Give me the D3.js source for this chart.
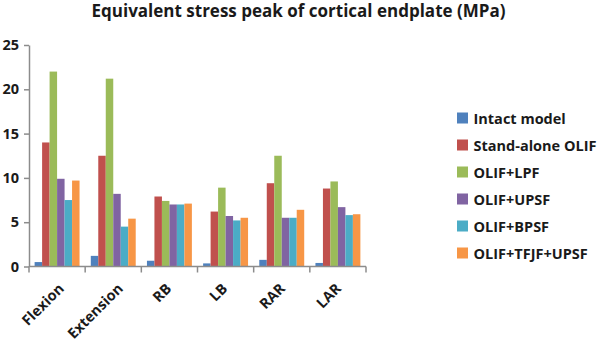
<!DOCTYPE html>
<html>
<head>
<meta charset="utf-8">
<script src="https://cdn.jsdelivr.net/npm/d3@7"></script>
<style>
  body { margin: 0; background: #fff; }
  svg text { font-family: "Open Sans", Lato, sans-serif; font-weight: bold; fill: #1a1a1a; }
</style>
</head>
<body>
<div id="container"></div>
<script>
// data
const categories = ["Flexion", "Extension", "RB", "LB", "RAR", "LAR"];
const seriesNames = ["Intact model", "Stand-alone OLIF", "OLIF+LPF", "OLIF+UPSF", "OLIF+BPSF", "OLIF+TFJF+UPSF"];
const intact = [0.5, 1.2, 0.65, 0.35, 0.75, 0.4];
const standAlone = [14.0, 12.5, 7.9, 6.2, 9.4, 8.8];
const lpf = [22.0, 21.2, 7.4, 8.9, 12.5, 9.6];
const upsf = [9.9, 8.2, 7.0, 5.7, 5.5, 6.7];
const bpsf = [7.5, 4.5, 7.0, 5.2, 5.5, 5.8];
const tfjf = [9.7, 5.4, 7.1, 5.5, 6.4, 5.9];
const yTicks = [0, 5, 10, 15, 20, 25];
const colors = ["#4f81bd", "#c0504d", "#9bbb59", "#8064a2", "#4bacc6", "#f79646"];

const allSeries = [intact, standAlone, lpf, upsf, bpsf, tfjf];

let w = 597;
let h = 346;

let svg = d3.select("#container")
    .append("svg")
    .attr("width", w)
    .attr("height", h);

// shrink/grow a text until it is about as wide as in the picture
function fitWidth(sel, target) {
    let len = sel.node().getComputedTextLength();
    let fs = parseFloat(sel.attr("font-size"));
    return fs * target / len;
}

// title
let title = svg.append("text")
    .attr("x", 298.5)
    .attr("y", 17)
    .attr("text-anchor", "middle")
    .attr("font-size", 15)
    .text("Equivalent stress peak of cortical endplate (MPa)");
title.attr("font-size", fitWidth(title, 414));

// scales
let xScale = d3.scaleBand()
    .domain(categories)
    .range([29, 366])
    .paddingInner(0)
    .paddingOuter(0);

let xInner = d3.scaleBand()
    .domain(seriesNames)
    .range([0, xScale.bandwidth()])
    .paddingOuter(0.75)
    .paddingInner(0);

let yScale = d3.scaleLinear()
    .domain([0, 25])
    .range([266.5, 45]);

// legend first so its font size can be reused
let legend = svg.append("g").attr("transform", "translate(457,118)");
let items = legend.selectAll("g")
    .data(seriesNames)
    .join("g")
    .attr("transform", (d, i) => `translate(0,${i * 27})`);
items.append("rect")
    .attr("x", 0).attr("y", -5.5)
    .attr("width", 11).attr("height", 11)
    .attr("fill", (d, i) => colors[i]);
let legendText = items.append("text")
    .attr("x", 16.5)
    .attr("y", 5.5)
    .attr("font-size", 14)
    .text(d => d);
let fsLabel = fitWidth(legendText.filter((d, i) => i === 1), 123);
legendText.attr("font-size", fsLabel);

// y axis
let yAxis = d3.axisLeft(yScale).tickValues(yTicks).tickSize(5).tickSizeOuter(0);
let yAxisGroup = svg.append("g")
    .attr("transform", "translate(29,0)")
    .call(yAxis);
yAxisGroup.select(".domain").attr("stroke", "#8c8c8c").attr("stroke-width", 1.5);
yAxisGroup.selectAll("line").attr("stroke", "#8c8c8c").attr("stroke-width", 1.5);
yAxisGroup.attr("font-family", null).attr("font-size", null);
yAxisGroup.selectAll("text")
    .attr("x", -10)
    .attr("font-size", fsLabel)
    .attr("fill", "#1a1a1a");

// bars
let groups = svg.append("g").selectAll(".cat")
    .data(categories)
    .join("g")
    .classed("cat", true)
    .attr("transform", d => `translate(${xScale(d)},0)`);

groups.selectAll("rect")
    .data((d, i) => allSeries.map((s, j) => ({ name: seriesNames[j], value: s[i], color: colors[j] })))
    .join("rect")
    .attr("x", d => xInner(d.name))
    .attr("width", xInner.bandwidth())
    .attr("y", d => yScale(d.value))
    .attr("height", d => yScale(0) - yScale(d.value))
    .attr("fill", d => d.color);

// x axis (ticks at band boundaries)
let xAxisGroup = svg.append("g").attr("transform", `translate(0,${yScale(0)})`);
xAxisGroup.append("line")
    .attr("x1", 29).attr("x2", 366)
    .attr("stroke", "#8c8c8c").attr("stroke-width", 1.5);
xAxisGroup.selectAll(".tick")
    .data(categories.map(c => xScale(c) + xScale.bandwidth()).concat([29]))
    .join("line")
    .attr("x1", d => d).attr("x2", d => d)
    .attr("y1", 0).attr("y2", 6)
    .attr("stroke", "#8c8c8c").attr("stroke-width", 1.5);

// rotated labels; longer labels sit a bit further right, like in the picture
let xLabels = xAxisGroup.selectAll(".lbl")
    .data(categories)
    .join("text")
    .attr("text-anchor", "end")
    .attr("font-size", fsLabel)
    .text(d => d);
xLabels.attr("transform", function (d) {
    let len = this.getComputedTextLength();
    let cx = xScale(d) + xScale.bandwidth() / 2 + 0.15 * len;
    return `translate(${cx},23) rotate(-45)`;
});
</script>
</body>
</html>
